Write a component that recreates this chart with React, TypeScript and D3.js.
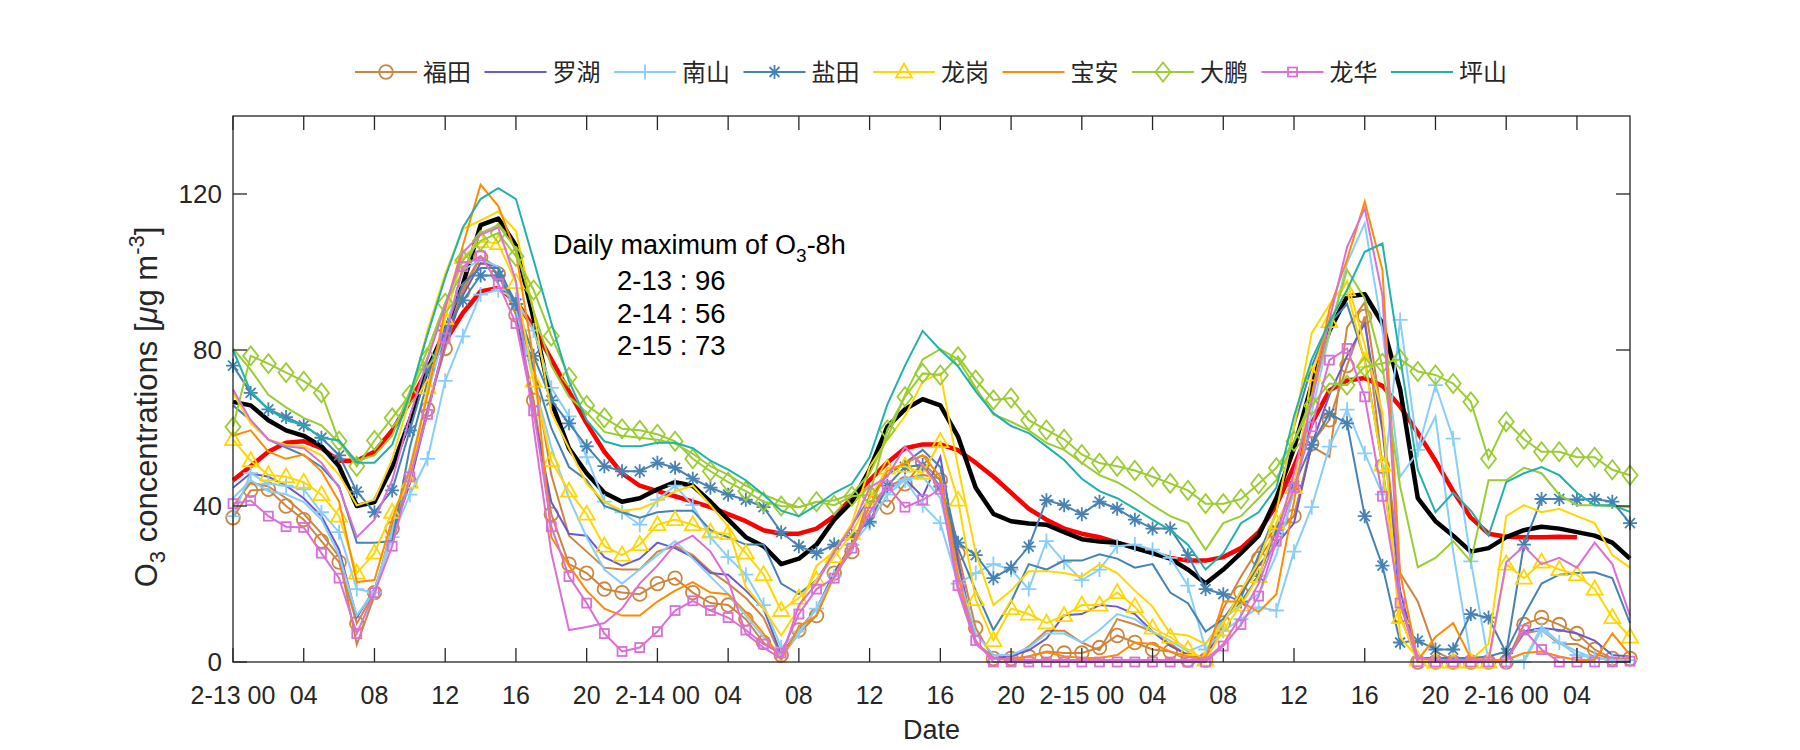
import React from 'react';
import * as d3 from 'd3';

// ---------- data (hourly, hour 0 = 2-13 00) ----------
const tickHours = [0, 4, 8, 12, 16, 20, 24, 28, 32, 36, 40, 44, 48, 52, 56, 60, 64, 68, 72, 76];
const tickLabels = ['2-13 00', '04', '08', '12', '16', '20', '2-14 00', '04', '08', '12', '16', '20', '2-15 00', '04', '08', '12', '16', '20', '2-16 00', '04'];
const yTicks = [0, 40, 80, 120];

const meanAll = [
  66.7, 65.8, 62, 59.4, 58, 55.3, 50.2, 40, 41, 50, 62, 75, 85, 96.8, 112, 113.7, 106.8,
  88, 66.7, 54.8, 48.4, 43.4, 41.1, 42, 44.3, 46.1, 45.2, 41.1, 36.5, 32, 29.7, 25.1, 26.5, 30.1,
  36.5, 41.1, 49.3, 60.3, 64.8, 67.4, 65.8, 57.8, 44.7, 38, 36.1, 35.5, 35.2, 33.3, 31.5, 30.9,
  30.6, 29.2, 27.9, 26.5, 23.7, 20.1, 23.7, 27.9, 32.4, 42, 54.8, 71.2, 84.9, 93.7, 94.3, 86.8, 70,
  42, 36.1, 32.4, 28.3, 29.2, 32, 33.8, 34.7, 34.2, 33.3, 32.4, 30.6, 26.5
];
const mean8h = [
  46.6, 50.2, 53.9, 56.2, 56.6, 54.8, 51.6, 51.6, 53.9, 59.4, 66.7, 74.9, 82.2, 89.5, 95, 95.9, 92.5,
  85.8, 77.6, 69.4, 61.2, 53.9, 48.4, 45.2, 43.8, 42.5, 41.1, 39.7, 37.9, 36.1, 33.8, 32.9, 32.9, 34.2,
  37.4, 42, 46.6, 51.1, 54.8, 55.8, 55.8, 54.3, 51.1, 47.5, 43.4, 39.3, 36.5, 34.2, 32.9, 32,
  30.6, 29.4, 28, 26.7, 26, 26, 26.9, 29.2, 33.3, 40.2, 50.2, 61.2, 69.6, 72.2, 72.8, 70.8, 65.5,
  58.8, 51.6, 43.8, 37, 32.9, 32.1, 32, 32, 32.1, 32
];

const futian = [
  37, 44, 44.3, 40, 36.5, 31, 25.6, 9.9, 17.8, 34.2, 46.1, 64.8, 80.4, 95, 103.7, 99.5, 89,
  67.1, 37.9, 25.1, 22.8, 18.7, 17.8, 17.4, 20.1, 21.5, 17.8, 15.1, 14.6, 11, 5, 1.8, 8.2, 11.9,
  22.8, 28.3, 42.9, 39.7, 45.7, 51.1, 46.6, 27.9, 8.7, 0.9, 0.9, 1.4, 2.7, 2.3, 2.3, 3.7,
  6.8, 5, 3.2, 2.7, 0.5, 0.5, 10, 17.8, 26.5, 32.9, 37.4, 56, 62.1, 76, 88.6, 50.2, 11.9,
  0, 0, 0, 0, 0, 0, 9.6, 11.4, 9.6, 7.3, 3.2, 0.9, 0.9
];
const futianB = [
  40, 46, 45, 42, 38, 33, 27, 4.5, 17, 35, 47, 65, 82, 96, 104, 101, 90,
  75, 48, 32.4, 28.3, 24.2, 23.7, 23.7, 28.3, 29.7, 27.4, 23.3, 20.1, 16.4, 11.4, 1.4, 7.3, 12,
  23, 30, 40, 45, 47, 48, 47, 25, 5, 1, 1, 4, 8, 8, 5, 3,
  11, 9.6, 7.8, 4.6, 1.8, 1.4, 13.7, 21.9, 29.2, 34.2, 37.4, 55.3, 52.6, 85.8, 92.2, 62.1, 22.8,
  15.5, 2.7, 0.5, 0.5, 0.5, 0.5, 7.3, 8.2, 4.6, 4.6, 2.3, 0.5, 0.5
];
const luohu = [
  44.7, 48.4, 47.5, 45.2, 42, 37.4, 28.8, 11.4, 18.7, 32.4, 45.7, 64, 82, 94, 102.3, 101.4, 90.4,
  64, 41, 32.9, 32.4, 26.9, 24.7, 26.5, 30.6, 29.2, 26.9, 22.8, 22.4, 18.3, 13.7, 1.8, 8.2, 13.7,
  23, 30, 38, 44, 47, 42.4, 52.6, 26, 5, 1, 1.5, 3, 6, 12, 12.3, 14.6,
  14.2, 12.3, 7.8, 4.1, 1.8, 0.5, 11, 17.4, 24.7, 30.1, 35.6, 55.7, 68.5, 78.5, 86.8, 59.4, 18.3,
  0.5, 0.5, 0.5, 0.5, 0.5, 0.5, 7.8, 8.7, 8.2, 7.3, 5.5, 1.8, 1.4
];
const nanshan = [
  37.4, 48.4, 45.7, 45.2, 44.3, 38.4, 33.3, 18.7, 17.8, 32, 42.9, 52.1, 72.1, 83.5, 94.2, 95.4, 93,
  85, 70.3, 63, 52.5, 41.1, 38.4, 35.2, 41.6, 45.2, 40.2, 32, 26.9, 22.4, 14.6, 3.7, 7.8, 13.7,
  22, 30, 35.6, 42.9, 46.6, 40.2, 35.6, 20.1, 22.8, 25.1, 23.7, 18.7, 31, 25.6, 21, 23.7,
  29.7, 30.1, 28.8, 26.7, 19.6, 3.2, 8, 11, 14, 13.2, 28.3, 39.7, 55.2, 64.7, 53.5, 43, 87.7,
  54.4, 71, 57.3, 25.8, 0.2, 0, 0, 8.2, 5, 1.8, 1, 0.5, 0.5
];
const nanshanB = [
  42, 46.6, 43.8, 43, 41, 36.5, 27.4, 11.9, 18.3, 33.8, 50, 68.5, 85, 100.5, 103.2, 101.4, 90.4,
  72, 55, 42, 32, 23.7, 20.1, 23.7, 27.4, 31, 26.5, 21.9, 17.4, 11.9, 6.4, 1.8, 7.3, 13.7,
  22, 30, 38, 44, 47, 47.5, 42, 22.8, 7.3, 1.8, 1.8, 3.7, 7.3, 7.3, 5, 8.2,
  12.3, 11, 7.8, 5.5, 2.7, 4.6, 11, 14.6, 17.4, 27.4, 43.8, 63.9, 84, 102.3, 112.5, 85, 47.5,
  53.9, 62.9, 28.3, 1, 0, 0, 0.5, 9.1, 5, 2.7, 1, 0.5, 0.5
];
const yantian = [
  76, 69, 64.8, 62.8, 60.7, 57.5, 53, 43.7, 38.4, 44, 59.4, 75, 85, 92.7, 99.1, 99.1, 91.8,
  78.5, 67.1, 61.2, 55.3, 50.2, 48.9, 48.9, 51.1, 49.8, 47, 44.7, 42.9, 41.6, 39.7, 33.3, 29.7, 27.9,
  30.1, 32.4, 36, 45.2, 50, 50.5, 45, 30.6, 27.4, 21.5, 24.2, 29.6, 41.5, 40.2, 37.9, 41.1,
  39.3, 36.5, 34.2, 34.2, 27.4, 18.7, 17.4, 15.5, 22, 34, 45.2, 55.7, 63.7, 61.2, 37.4, 24.7, 5,
  5.5, 3.2, 3.2, 12.3, 11.4, 2.3, 30.1, 41.8, 41.8, 41.6, 41.8, 41.1, 35.6
];
const yantianB = [
  65.8, 62, 57, 55, 53, 50, 45, 30.6, 30.6, 31, 55, 72, 85, 97, 101, 101, 92,
  75, 60, 50, 46.6, 40, 38.4, 37, 38.4, 38.8, 38.8, 33.8, 32, 30.1, 30.1, 20.1, 17.4, 21,
  28, 35, 42, 48, 51, 54.4, 50, 29.2, 18.3, 8.2, 15.5, 25.1, 23.7, 26, 26, 27.6,
  26.5, 24.2, 25.1, 17.8, 15.1, 7.8, 11, 16.4, 27.4, 38.4, 60.3, 75.8, 86.8, 91.8, 77.6, 50.2, 15.5,
  1, 1, 1, 1, 1.4, 2.7, 11.9, 20.1, 22.4, 22.8, 23, 21.5, 10
];
const longgang = [
  57, 51.6, 48, 47.5, 46.1, 42.9, 37.4, 22.8, 27.9, 38.4, 46.1, 70.3, 88.1, 103.7, 107.8, 107.3, 97.3,
  72, 51.6, 43.8, 37.9, 29.7, 27.4, 30.1, 35.2, 36.5, 35.2, 33.3, 32.9, 27.9, 22.4, 13.2, 16.4, 21,
  27, 33, 42, 49.7, 50.2, 48.4, 56.5, 41.5, 16, 5.5, 13.7, 12.3, 10, 11.9, 14.6, 14.6,
  17.8, 14.2, 8.7, 6.4, 3.2, 0.5, 8.2, 14.6, 21.9, 35.6, 44.7, 73.6, 87.3, 95.4, 77, 50.5, 11.4,
  0.5, 0, 0, 0, 0, 25.1, 21.5, 25.6, 23.7, 22.4, 18.7, 11.4, 6.4
];
const longgangB = [
  69, 61.2, 57, 55.7, 55.3, 53, 48, 40.2, 41.6, 52, 67.6, 85, 99.5, 111, 113.2, 115.5, 110.5,
  90, 64, 54.8, 45.7, 41.1, 38.8, 39.3, 41.1, 43.8, 45.2, 40.2, 34.7, 19.2, 13.7, 6.8, 13.7, 24.7,
  28.3, 35.6, 50, 57, 63, 72, 74, 50, 28, 14.6, 18.3, 23.3, 23.3, 22.8, 21.9, 25.1,
  22.8, 18.3, 14.2, 7.3, 6.8, 4.6, 10, 18.3, 25.6, 38.4, 60.3, 84.3, 91.6, 97.7, 81.3, 64, 6.4,
  1, 0.5, 0.5, 0.5, 4.6, 37.4, 40.2, 38.4, 39.3, 37.4, 35.6, 27.4, 24.2
];
const baoan = [
  58, 59.4, 53.9, 52.1, 53.2, 48.9, 41.1, 20.5, 21, 36.5, 49.3, 68.5, 90.4, 106.8, 122.4, 116.9, 105,
  77.6, 32, 24.7, 18.3, 13.7, 11.9, 11.9, 15.5, 18.3, 20.5, 17.8, 17.4, 12.8, 7.3, 0.5, 9.1, 11.9,
  22, 30, 40, 49, 51, 53, 47.5, 22, 5, 1, 0.5, 1.5, 2.5, 1.5, 1, 1,
  1.8, 5, 4.6, 2.7, 1.4, 0.9, 15.5, 15.5, 12.8, 17.4, 41.1, 68.5, 90.4, 103.2, 118, 100.5, 22.8,
  0.5, 6.4, 10, 0.9, 0.5, 0.5, 2.3, 2.7, 1.4, 0.5, 0.5, 7.3, 1.8
];
const dapeng = [
  60.3, 78.5, 76.5, 74.2, 72, 69, 56.6, 50.2, 56.8, 62.6, 68.5, 78, 92, 103, 108, 110, 104,
  95.4, 83.6, 73, 65.8, 62.6, 59.8, 59.4, 58.4, 56.6, 52.1, 48.9, 46.1, 43.8, 41.1, 40, 39.7, 41.1,
  40.2, 42.5, 42.9, 59.5, 68, 74, 73.6, 78.3, 72.3, 67.2, 67.7, 62, 59.5, 57.1, 53.2, 51,
  50.2, 49.1, 47.5, 45.8, 44, 40.6, 40.6, 41.8, 45.7, 49.8, 56.6, 65.8, 71.4, 71, 75.7, 76.6, 77.6,
  74.5, 73.6, 71.4, 66.7, 52.1, 61.6, 57.1, 53.9, 53.9, 52.5, 52.5, 49.3, 47.9
];
const dapengB = [
  80.4, 74.9, 68.5, 65.3, 62.6, 60.7, 56.2, 51.6, 53, 58, 69.4, 80, 92, 100, 110, 112, 106,
  90, 76, 68, 64, 59, 58, 57.5, 57, 56, 53.4, 50.2, 48, 45.2, 42.9, 41.1, 39.7, 41,
  41.5, 43, 48.4, 57.5, 68.5, 77.6, 80.2, 77.6, 70.3, 63.5, 61.6, 59.4, 56.2, 54.4, 51.1, 47.9,
  46.1, 43.4, 40.2, 37.4, 35.6, 28.8, 35.6, 37.4, 42, 46.6, 56.6, 67.6, 84.9, 100.5, 93.2, 75.8, 45,
  24.3, 26.7, 31, 25.8, 46.6, 46.6, 49.8, 48.4, 42.9, 40.2, 40.2, 40, 39.7
];
const longhua = [
  40.6, 41.4, 37.4, 34.7, 34.5, 27.9, 21.5, 7.3, 17.8, 29.7, 47.5, 63.5, 83.1, 101.4, 104.1, 97, 86.8,
  64.4, 34.7, 21.9, 15.1, 7.3, 2.7, 3.7, 7.8, 13.2, 15.7, 13.2, 11.4, 8.2, 4.6, 2.3, 12.3, 18.7,
  21.5, 29.2, 38.4, 45.2, 39.7, 41.6, 44.3, 19.6, 5.5, 0, 0, 0, 0, 0, 0, 0,
  0, 0, 0, 0, 0, 0, 4.1, 9.6, 16.9, 31, 44.7, 60.3, 77.4, 80.4, 68, 42.5, 15.1,
  0, 0, 0, 0, 0, 0, 8.2, 3.2, 0, 0, 0, 0, 0.2
];
const longhuaB = [
  69.9, 62, 57, 55.3, 54.8, 51.1, 44.7, 32, 36.5, 46.6, 63, 77.6, 91.3, 105, 109.6, 111.4, 97.7,
  60, 28, 8.2, 9, 10, 13.7, 20.1, 24.7, 30.1, 32.4, 28.3, 21, 7.3, 3.7, 0.9, 14.6, 20.1,
  28.3, 34.7, 44.7, 47.5, 55.2, 50.2, 44.7, 18.3, 4.6, 0.9, 0.5, 0.5, 0.5, 0.5, 0.5, 0.5,
  0.5, 0.5, 0.5, 0.5, 0.5, 0.5, 4.6, 11.9, 20.1, 32, 48.4, 66.7, 87.7, 106.4, 116.3, 94, 15.5,
  1, 0.5, 0.5, 0.5, 0.5, 25.6, 29.7, 25.1, 26.7, 24.2, 30.6, 25.1, 11.9
];
const pingshan = [
  80, 69.4, 64.8, 62, 60.7, 57.5, 56.8, 51.1, 51.1, 55.7, 68.5, 84, 98.6, 111.4, 118.7, 121.5, 118.7,
  103, 87, 72, 62, 56.6, 55.3, 55.3, 56.2, 56.2, 54.8, 51.6, 49.3, 46.6, 42.9, 38.8, 37.4, 40.2,
  43.4, 45.7, 52.5, 66, 76, 84.9, 80, 75.8, 69.4, 63.8, 60.5, 58.7, 55.3, 51.8, 47, 43.8,
  42, 39.3, 36.5, 33.8, 30.1, 23.7, 27.9, 35.6, 38.4, 44.7, 63, 77.6, 87.2, 95.4, 105.2, 107.3, 78,
  49.3, 38.4, 43.4, 38.8, 32.4, 46.1, 48.4, 50, 47.9, 43.4, 40.2, 40.2, 38.5
];

const stations = [
  { name: '福田', color: '#CD853F', marker: 'o', main: futian, extra: futianB },
  { name: '罗湖', color: '#6A5ACD', marker: '', main: luohu, extra: null },
  { name: '南山', color: '#87CEFA', marker: '+', main: nanshan, extra: nanshanB },
  { name: '盐田', color: '#4682B4', marker: '*', main: yantian, extra: yantianB },
  { name: '龙岗', color: '#FFD700', marker: '^', main: longgang, extra: longgangB },
  { name: '宝安', color: '#FF8C00', marker: '', main: baoan, extra: null },
  { name: '大鹏', color: '#9ACD32', marker: 'd', main: dapeng, extra: dapengB },
  { name: '龙华', color: '#DA70D6', marker: 's', main: longhua, extra: longhuaB },
  { name: '坪山', color: '#20B2AA', marker: '', main: pingshan, extra: null },
];

const annoTitle = 'Daily maximum of O';
const annoLines = ['2-13 : 96', '2-14 : 56', '2-15 : 73'];

// ---------- layout ----------
const W = 1800, H = 750;
const L = 233, R = 1630, T = 116, B = 662;
const AX = '#262626';
const FONT = '"Liberation Sans", Arial, "Noto Sans CJK SC", sans-serif';

const x = d3.scaleLinear().domain([0, 79]).range([L, R]);
const y = d3.scaleLinear().domain([0, 140]).range([B, T]);

function Marker({ type, cx, cy, color }: { type: string; cx: number; cy: number; color: string }) {
  const sw = 1.8;
  if (type === 'o') return <circle cx={cx} cy={cy} r={6.8} fill="none" stroke={color} strokeWidth={sw} />;
  if (type === '+') return <path d={`M${cx - 7.5},${cy}H${cx + 7.5}M${cx},${cy - 7.5}V${cy + 7.5}`} stroke={color} strokeWidth={sw} fill="none" />;
  if (type === '*') return <path d={`M${cx - 7},${cy}H${cx + 7}M${cx},${cy - 7}V${cy + 7}M${cx - 5},${cy - 5}L${cx + 5},${cy + 5}M${cx - 5},${cy + 5}L${cx + 5},${cy - 5}`} stroke={color} strokeWidth={sw} fill="none" />;
  if (type === '^') return <path d={`M${cx},${cy - 8.5}L${cx + 8},${cy + 5.5}L${cx - 8},${cy + 5.5}Z`} stroke={color} strokeWidth={sw} fill="none" />;
  if (type === 'd') return <path d={`M${cx},${cy - 9.5}L${cx + 7.5},${cy}L${cx},${cy + 9.5}L${cx - 7.5},${cy}Z`} stroke={color} strokeWidth={sw} fill="none" />;
  if (type === 's') return <rect x={cx - 4.5} y={cy - 4.5} width={9} height={9} stroke={color} strokeWidth={sw} fill="none" />;
  return null;
}

export default function App() {
  const line = d3.line<number>().x((_, i) => x(i)).y((d) => y(d));
  const legendX0 = 355, legendStep = 129.5, legendY = 72;

  return (
    <svg width={W} height={H} viewBox={`0 0 ${W} ${H}`} style={{ position: 'absolute', left: 0, top: 0, background: '#fff' }} fontFamily={FONT}>
      <rect x={0} y={0} width={W} height={H} fill="#fff" />
      {/* mean lines */}
      <path d={line(mean8h) || ''} fill="none" stroke="#FF0000" strokeWidth={4.5} strokeLinejoin="round" />
      <path d={line(meanAll) || ''} fill="none" stroke="#000" strokeWidth={4.5} strokeLinejoin="round" />
      {/* station lines */}
      {stations.map((s) => (
        <g key={s.name}>
          {s.extra && <path d={line(s.extra) || ''} fill="none" stroke={s.color} strokeWidth={2} />}
          <path d={line(s.main) || ''} fill="none" stroke={s.color} strokeWidth={2} />
          {s.marker && s.main.map((v, i) => <Marker key={i} type={s.marker} cx={x(i)} cy={y(v)} color={s.color} />)}
        </g>
      ))}
      {/* box */}
      <rect x={L} y={T} width={R - L} height={B - T} fill="none" stroke={AX} strokeWidth={1.3} />
      {tickHours.map((h, i) => (
        <g key={'xt' + i}>
          <line x1={x(h)} x2={x(h)} y1={B} y2={B - 14} stroke={AX} strokeWidth={1.3} />
          <line x1={x(h)} x2={x(h)} y1={T} y2={T + 14} stroke={AX} strokeWidth={1.3} />
          <text x={x(h)} y={B + 42} textAnchor="middle" fontSize={25} fill={AX}>{tickLabels[i]}</text>
        </g>
      ))}
      {yTicks.map((v) => (
        <g key={'yt' + v}>
          <line x1={L} x2={L + 14} y1={y(v)} y2={y(v)} stroke={AX} strokeWidth={1.3} />
          <line x1={R} x2={R - 14} y1={y(v)} y2={y(v)} stroke={AX} strokeWidth={1.3} />
          <text x={L - 11} y={y(v) + 9} textAnchor="end" fontSize={26} fill={AX}>{v}</text>
        </g>
      ))}
      {/* axis labels */}
      <text x={(L + R) / 2} y={739} textAnchor="middle" fontSize={27} fill={AX}>Date</text>
      <text transform={`translate(157, 407) rotate(-90)`} textAnchor="middle" fontSize={31} fill={AX}>
        O<tspan fontSize={22} dy={8}>3</tspan>
        <tspan dy={-8}> concentrations [</tspan>
        <tspan fontStyle="italic">μ</tspan>
        <tspan>g m</tspan>
        <tspan fontSize={22} dy={-13}>-3</tspan>
        <tspan dy={13}>]</tspan>
      </text>
      {/* annotation */}
      <text x={553} y={254} fontSize={27} fill="#000">
        {annoTitle}<tspan fontSize={19} dy={8}>3</tspan><tspan dy={-8}>-8h</tspan>
      </text>
      {annoLines.map((t, i) => (
        <text key={t} x={617} y={290 + i * 32.5} fontSize={27.5} fill="#000">{t}</text>
      ))}
      {/* legend */}
      {stations.map((s, i) => {
        const lx = legendX0 + i * legendStep;
        return (
          <g key={'lg' + s.name}>
            <line x1={lx} x2={lx + 62} y1={legendY} y2={legendY} stroke={s.color} strokeWidth={2} />
            {s.marker && <Marker type={s.marker} cx={lx + 31} cy={legendY} color={s.color} />}
            <text x={lx + 68} y={legendY + 9} fontSize={24} fill={AX} fontFamily='"Noto Sans CJK SC", sans-serif'>{s.name}</text>
          </g>
        );
      })}
    </svg>
  );
}
